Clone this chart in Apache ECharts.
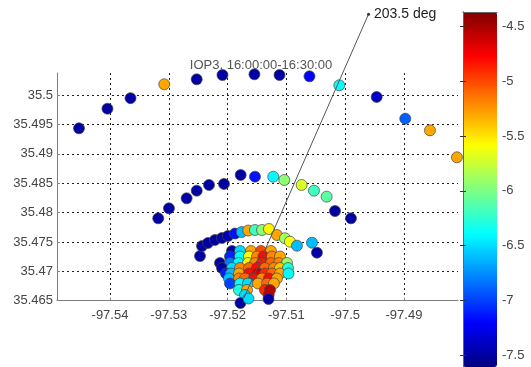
<!DOCTYPE html>
<html>
<head>
<meta charset="utf-8">
<style>
  html, body { margin: 0; padding: 0; background: #fff; }
  #chart { width: 531px; height: 367px; }
</style>
<script src="https://cdn.jsdelivr.net/npm/echarts@6/dist/echarts.min.js"></script>
</head>
<body>
<div id="chart"></div>
<script>
const titleText = 'IOP3, 16:00:00-16:30:00';
const xTicks = [-97.54, -97.53, -97.52, -97.51, -97.5, -97.49];
const yTicks = [35.465, 35.47, 35.475, 35.48, 35.485, 35.49, 35.495, 35.5];
const cTicks = [-7.5, -7, -6.5, -6, -5.5, -5, -4.5];

// outer arc
const outerLon = [-97.54527, -97.54043, -97.53651, -97.53077, -97.52525, -97.52087, -97.51543, -97.51117, -97.50607, -97.50100, -97.49464, -97.48978, -97.48558, -97.48099];
const outerLat = [35.49433, 35.49767, 35.49946, 35.50182, 35.50267, 35.50340, 35.50352, 35.50340, 35.50318, 35.50165, 35.49966, 35.49597, 35.49399, 35.48940];
const outerVal = [-7.5, -7.5, -7.5, -5.3, -7.5, -7.5, -7.5, -7.5, -7.2, -6.4, -7.4, -6.9, -5.3, -5.3];

// middle arc
const midLon = [-97.53179, -97.52997, -97.52696, -97.52525, -97.52316, -97.52061, -97.51777, -97.51534, -97.51223, -97.51036, -97.50740, -97.50531, -97.50315, -97.50173, -97.49901];
const midLat = [35.47902, 35.48072, 35.48242, 35.48372, 35.48469, 35.48486, 35.48639, 35.48610, 35.48610, 35.48554, 35.48469, 35.48372, 35.48270, 35.48026, 35.47902];
const midVal = [-7.5, -7.5, -7.5, -7.5, -7.5, -7.5, -7.5, -7.15, -6.4, -5.95, -5.7, -6.2, -6.1, -7.5, -7.5];

// inner arc
const innerLon = [-97.52469, -97.52435, -97.52333, -97.52214, -97.52095, -97.51993, -97.51874, -97.51760, -97.51648, -97.51534, -97.51415, -97.51296, -97.51160, -97.51024, -97.50939, -97.50820, -97.50565, -97.50480];
const innerLat = [35.47260, 35.47430, 35.47482, 35.47533, 35.47567, 35.47601, 35.47643, 35.47669, 35.47694, 35.47703, 35.47703, 35.47720, 35.47618, 35.47562, 35.47504, 35.47436, 35.47487, 35.47317];
const innerVal = [-7.5, -7.5, -7.5, -7.5, -7.5, -7.45, -7.15, -6.6, -5.3, -6.2, -5.95, -5.55, -5.3, -5.9, -5.6, -6.6, -6.6, -7.5];

// dense cluster near the ray origin
const clusterLon = [
  -97.51925, -97.51789, -97.51602, -97.51432, -97.51262,
  -97.51959, -97.51789, -97.51636, -97.51500, -97.51389, -97.51245, -97.51109,
  -97.52129, -97.51959, -97.51815, -97.51653, -97.51534, -97.51415, -97.51262, -97.51126, -97.50990,
  -97.52095, -97.51925, -97.51789, -97.51636, -97.51500, -97.51364, -97.51211, -97.51109, -97.50973,
  -97.52027, -97.51942, -97.51806, -97.51636, -97.51483, -97.51364, -97.51245, -97.51109, -97.50964,
  -97.51976, -97.51806, -97.51704, -97.51551, -97.51415, -97.51296, -97.51160,
  -97.51959, -97.51789, -97.51653, -97.51483, -97.51330, -97.51211,
  -97.51806, -97.51670, -97.51364, -97.51279,
  -97.51704, -97.51301,
  -97.51781, -97.51645, -97.51304
];
const clusterLat = [
  35.47346, 35.47346, 35.47346, 35.47346, 35.47346,
  35.47252, 35.47252, 35.47252, 35.47252, 35.47252, 35.47252, 35.47252,
  35.47141, 35.47141, 35.47141, 35.47141, 35.47141, 35.47141, 35.47141, 35.47141, 35.47141,
  35.47056, 35.47056, 35.47056, 35.47056, 35.47056, 35.47056, 35.47056, 35.47056, 35.47056,
  35.46963, 35.46963, 35.46963, 35.46963, 35.46963, 35.46963, 35.46963, 35.46963, 35.46963,
  35.46878, 35.46878, 35.46878, 35.46878, 35.46878, 35.46878, 35.46878,
  35.46793, 35.46793, 35.46793, 35.46793, 35.46793, 35.46793,
  35.46682, 35.46682, 35.46682, 35.46682,
  35.46597, 35.46597,
  35.46461, 35.46537, 35.46529
];
const clusterVal = [
  -7.5, -6.5, -5.3, -5.0, -5.3,
  -7.1, -6.4, -5.6, -5.2, -4.8, -5.2, -5.3,
  -7.5, -6.8, -6.4, -5.55, -5.2, -4.85, -5.1, -5.2, -5.9,
  -7.5, -6.5, -5.2, -5.1, -4.8, -5.1, -5.2, -5.4, -6.3,
  -7.1, -6.6, -5.3, -4.8, -4.6, -4.9, -5.1, -5.3, -6.4,
  -6.6, -5.2, -5.1, -4.8, -5.2, -4.8, -5.3,
  -7.0, -6.4, -6.5, -5.3, -5.1, -5.3,
  -6.3, -5.3, -4.9, -4.55,
  -6.5, -4.55,
  -7.5, -6.5, -7.5
];

// direction ray and its label
const rayLon = [-97.51721, -97.49603];
const rayLat = [35.46546, 35.51375];
const rayLabel = '203.5 deg';

// colour range of the colorbar (jet)
const cMin = -7.61;
const cMax = -4.366;
const jet = ['#000080', '#0000ff', '#0080ff', '#00ffff', '#80ff80', '#ffff00', '#ff8000', '#ff0000', '#800000'];

const allLon = outerLon.concat(midLon, innerLon, clusterLon);
const allLat = outerLat.concat(midLat, innerLat, clusterLat);
const allVal = outerVal.concat(midVal, innerVal, clusterVal);
const points = allLon.map((lon, i) => [lon, allLat[i], allVal[i]]);

const font = 'Liberation Sans, Arial, sans-serif';
const axisGrey = '#808080';

const chart = echarts.init(document.getElementById('chart'));

const option = {
  animation: false,
  title: {
    text: titleText,
    left: 256,
    top: 54,
    textAlign: 'center',
    textStyle: { fontSize: 13, fontWeight: 'normal', color: '#555', fontFamily: font }
  },
  grid: [
    { left: 57, top: 73, width: 401, height: 227.7 },
    { left: 463, top: 12, width: 34, height: 355 }
  ],
  xAxis: [
    {
      type: 'value',
      gridIndex: 0,
      min: -97.54901,
      max: -97.48081,
      axisLine: { show: true, onZero: false, lineStyle: { color: axisGrey } },
      axisTick: { show: true, inside: true, length: 3, customValues: xTicks, lineStyle: { color: axisGrey } },
      axisLabel: { customValues: xTicks, color: '#444', fontSize: 13, fontFamily: font, margin: 8 },
      splitLine: { show: true, lineStyle: { type: [2, 3], color: '#222', width: 1 } }
    },
    {
      type: 'value',
      gridIndex: 1,
      position: 'top',
      min: 0,
      max: 1,
      z: 10,
      axisLine: { show: true, lineStyle: { color: '#666' } },
      axisTick: { show: false },
      axisLabel: { show: false },
      splitLine: { show: false }
    }
  ],
  yAxis: [
    {
      type: 'value',
      gridIndex: 0,
      min: 35.465,
      max: 35.50374,
      axisLine: { show: true, onZero: false, lineStyle: { color: axisGrey } },
      axisTick: { show: true, inside: true, length: 3, customValues: yTicks, lineStyle: { color: axisGrey } },
      axisLabel: { customValues: yTicks, color: '#444', fontSize: 13, fontFamily: font, margin: 4 },
      splitLine: { show: true, lineStyle: { type: [2, 3], color: '#222', width: 1 } }
    },
    {
      type: 'value',
      gridIndex: 1,
      position: 'right',
      min: cMin,
      max: cMax,
      z: 10,
      axisLine: { show: true, lineStyle: { color: '#666' } },
      axisTick: { show: true, inside: true, length: 3, customValues: cTicks, lineStyle: { color: '#333' } },
      axisLabel: { customValues: cTicks, color: '#444', fontSize: 13, fontFamily: font, margin: 5 },
      splitLine: { show: false }
    },
    {
      type: 'value',
      gridIndex: 1,
      position: 'left',
      min: cMin,
      max: cMax,
      z: 10,
      axisLine: { show: true, lineStyle: { color: '#666' } },
      axisTick: { show: true, inside: true, length: 3, customValues: cTicks, lineStyle: { color: '#333' } },
      axisLabel: { show: false },
      splitLine: { show: false }
    }
  ],
  visualMap: {
    type: 'continuous',
    seriesIndex: 0,
    dimension: 2,
    min: cMin,
    max: cMax,
    orient: 'vertical',
    left: 463,
    top: 12,
    itemWidth: 34,
    itemHeight: 355,
    padding: 0,
    calculable: false,
    text: null,
    inRange: { color: jet }
  },
  series: [
    {
      type: 'scatter',
      xAxisIndex: 0,
      yAxisIndex: 0,
      data: points,
      clip: false,
      symbolSize: 11,
      itemStyle: { borderColor: '#444', borderWidth: 0.7, opacity: 1 }
    },
    {
      type: 'line',
      xAxisIndex: 0,
      yAxisIndex: 0,
      clip: false,
      z: 5,
      data: [
        { value: [rayLon[0], rayLat[0]], symbol: 'none' },
        {
          value: [rayLon[1], rayLat[1]],
          symbol: 'circle',
          symbolSize: 3,
          label: {
            show: true,
            position: 'right',
            distance: 4,
            formatter: rayLabel,
            fontSize: 14,
            color: '#222',
            fontFamily: font
          }
        }
      ],
      showSymbol: true,
      lineStyle: { color: '#555', width: 1 },
      itemStyle: { color: '#333' }
    }
  ]
};

chart.setOption(option);
</script>
</body>
</html>
